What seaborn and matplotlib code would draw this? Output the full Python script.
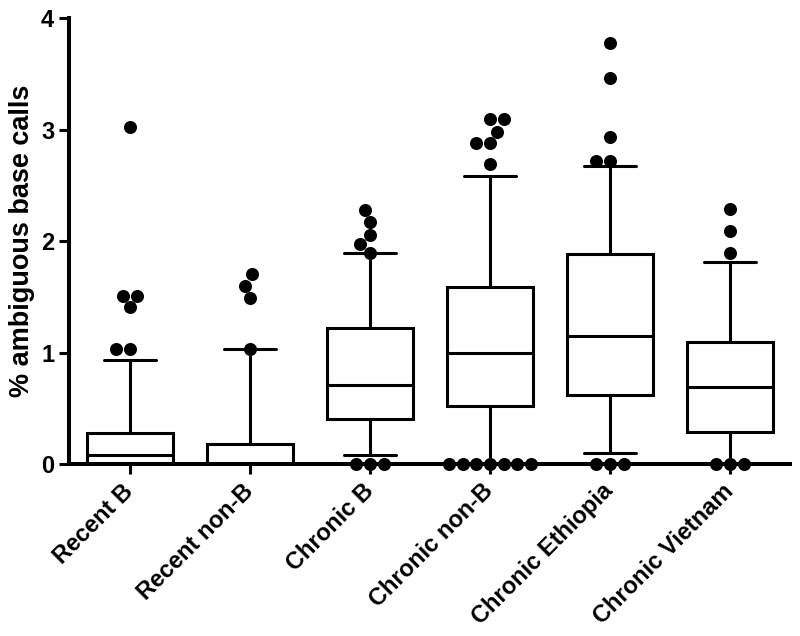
import pandas as pd
import matplotlib
matplotlib.use('Agg')
import matplotlib.pyplot as plt
import seaborn as sns

# Box summary per group
groups = ['Recent B', 'Recent non-B', 'Chronic B', 'Chronic non-B',
          'Chronic Ethiopia', 'Chronic Vietnam']
whisker_low = [0.0, 0.0, 0.08, 0.0, 0.10, 0.0]
q1 = [0.0, 0.0, 0.40, 0.52, 0.62, 0.29]
median = [0.08, 0.0, 0.71, 1.00, 1.15, 0.69]
q3 = [0.28, 0.18, 1.22, 1.59, 1.88, 1.09]
whisker_high = [0.93, 1.03, 1.89, 2.58, 2.67, 1.81]

# Points drawn outside the whiskers
outliers = {
    'Recent B': [3.02, 1.51, 1.51, 1.41, 1.03, 1.03],
    'Recent non-B': [1.70, 1.60, 1.49, 1.03],
    'Chronic B': [2.28, 2.17, 2.05, 1.97, 1.89, 0, 0, 0],
    'Chronic non-B': [3.09, 3.09, 2.98, 2.88, 2.88, 2.69, 0, 0, 0, 0, 0, 0, 0],
    'Chronic Ethiopia': [3.78, 3.46, 2.93, 2.72, 2.72, 0, 0, 0],
    'Chronic Vietnam': [2.29, 2.09, 1.89, 0, 0, 0],
}

# five values per group -> exact quartiles with whis=(0, 100)
rows = []
for i, g in enumerate(groups):
    for v in [whisker_low[i], q1[i], median[i], q3[i], whisker_high[i]]:
        rows.append({'group': g, 'value': v})
box_df = pd.DataFrame(rows)

out_df = pd.DataFrame([{'group': g, 'value': v}
                       for g in groups for v in outliers[g]])

sns.set_style('ticks', {'axes.edgecolor': 'black', 'text.color': 'black',
                        'xtick.color': 'black', 'ytick.color': 'black',
                        'axes.labelcolor': 'black'})
plt.rcParams['font.family'] = ['Liberation Sans', 'DejaVu Sans']
plt.rcParams['font.weight'] = 'bold'

fig = plt.figure(figsize=(8, 6.36), dpi=100)
ax = fig.add_axes([0.086, 0.2704, 0.9015, 0.7013])

sns.boxplot(data=box_df, x='group', y='value', order=groups, ax=ax,
            color='white', linecolor='black', linewidth=2.2, width=0.72,
            whis=(0, 100), fliersize=0, capwidths=0.43)
sns.swarmplot(data=out_df, x='group', y='value', order=groups, ax=ax,
              color='black', size=9.4, clip_on=False, zorder=4)

ax.set_xlim(-0.51, 5.5)
ax.set_ylim(0, 4)
ax.set_yticks([0, 1, 2, 3, 4])
sns.despine(ax=ax)
for side in ['left', 'bottom']:
    ax.spines[side].set_linewidth(2.9)
ax.tick_params(axis='both', width=2.2, length=7, labelsize=17, colors='black')
ax.tick_params(axis='x', pad=10)
ax.set_xlabel('')
ax.set_ylabel('% ambiguous base calls', fontsize=19.5, fontweight='bold',
              labelpad=4)
plt.setp(ax.get_xticklabels(), rotation=45, ha='right', va='center',
         rotation_mode='anchor', fontweight='bold')
plt.setp(ax.get_yticklabels(), fontweight='bold')

plt.savefig('out.png', dpi=100)
